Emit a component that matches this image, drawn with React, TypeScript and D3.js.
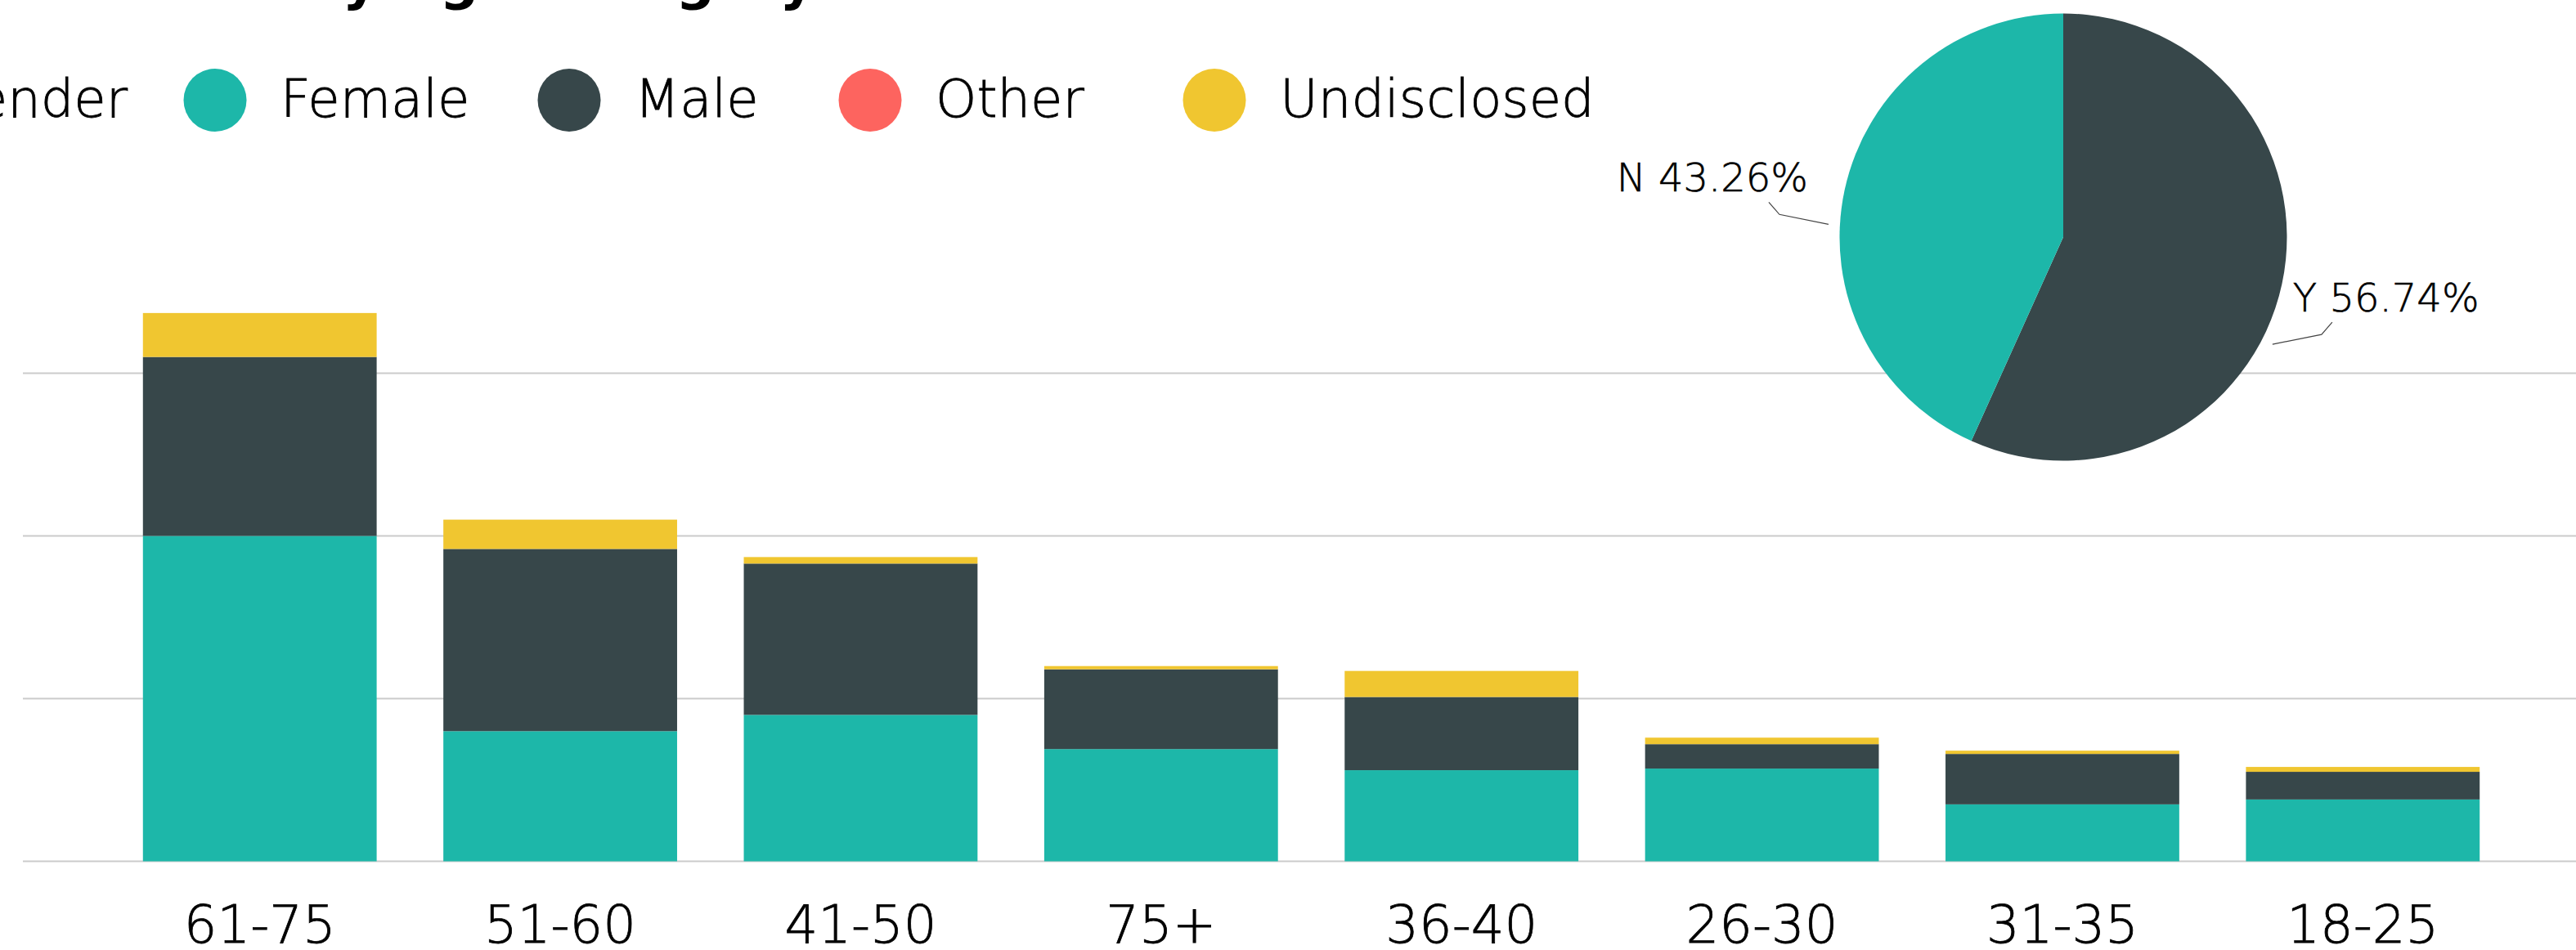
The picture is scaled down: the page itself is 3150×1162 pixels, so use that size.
import React from 'react';
import * as d3 from 'd3';

// age groups, already sorted by total
const ageGroups = ['61-75', '51-60', '41-50', '75+', '36-40', '26-30', '31-35', '18-25'];
const female = [200, 80, 90, 69, 56, 57, 35, 38];
const male = [110, 112, 93, 49, 45, 15, 31, 17];
const other = [0, 0, 0, 0, 0, 0, 0, 0];
const undisclosed = [27, 18, 4, 2, 16, 4, 2, 3];
const genders = ['Female', 'Male', 'Other', 'Undisclosed'];
const yTicks = [0, 100, 200, 300];

const pieLabels = ['Y', 'N'];
const pieValues = [56.74, 43.26];

const colors = ['#1db7a9', '#37474a', '#fd645f', '#f0c630'];
const FONT = "'DejaVu Sans', 'Open Sans', sans-serif";

const W = 3150;
const H = 1162;

// legend circle centres (layout only)
const legendX = [263, 696, 1064, 1485];
// nudge pie label leaders (degrees) so they sit like the original
const labelNudge = [15, -9];

// light text, thickened a touch
const txt = { fill: '#000', stroke: '#000', strokeWidth: 0.8 };

const App = () => {
  const rows = ageGroups.map((g, i) => ({
    group: g,
    Female: female[i],
    Male: male[i],
    Other: other[i],
    Undisclosed: undisclosed[i],
  }));
  const stack = d3.stack<any>().keys(genders)(rows);

  const x = d3.scaleBand().domain(ageGroups).range([134, 3073]).paddingInner(0.222).paddingOuter(0.111);
  const y = d3.scaleLinear().domain([0, 300]).range([1053.5, 456.5]);

  const cx = 2523;
  const cy = 290;
  const r = 273.5;
  const pie = d3.pie<number>().sort(null).value((d) => d)(pieValues);
  const arc = d3.arc<any>().innerRadius(0).outerRadius(r);

  return (
    <svg width={W} height={H} style={{ position: 'absolute', left: 0, top: 0, background: '#fff' }} fontFamily={FONT} fontWeight={300}>
      {/* title, mostly cut off at the top */}
      <text x={1459} y={-2} textAnchor="end" fontSize={67} fontWeight={700} fill="#000">
        Patients by Age Category and Gender
      </text>

      {/* legend */}
      <text x={156} y={143} textAnchor="end" fontSize={64} {...txt}>Gender</text>
      {genders.map((g, i) => (
        <g key={g}>
          <circle cx={legendX[i]} cy={122.5} r={38.5} fill={colors[i]} />
          <text x={legendX[i] + 80} y={143} fontSize={64} {...txt}>{g}</text>
        </g>
      ))}

      {/* gridlines */}
      {yTicks.map((t) => (
        <line key={t} x1={28} x2={W} y1={y(t)} y2={y(t)} stroke="#cbcbcb" strokeWidth={2} />
      ))}

      {/* stacked bars */}
      {stack.map((layer, li) => (
        <g key={layer.key} fill={colors[li]}>
          {layer.map((d, i) => (
            d[1] - d[0] > 0 ? (
              <rect key={i} x={x(ageGroups[i])} width={x.bandwidth()} y={y(d[1])} height={y(d[0]) - y(d[1])} />
            ) : null
          ))}
        </g>
      ))}

      {/* x labels */}
      {ageGroups.map((g) => (
        <text key={g} x={(x(g) as number) + x.bandwidth() / 2} y={1153} textAnchor="middle" fontSize={64} {...txt}>
          {g}
        </text>
      ))}

      {/* pie */}
      <g transform={`translate(${cx},${cy})`}>
        {pie.map((p, i) => (
          <path key={i} d={arc(p) as string} fill={colors[i === 0 ? 1 : 0]} />
        ))}
        {pie.map((p, i) => {
          const a = (p.startAngle + p.endAngle) / 2 + (labelNudge[i] * Math.PI) / 180;
          const side = Math.sin(a) >= 0 ? 1 : -1;
          const ax = Math.sin(a) * (r + 14);
          const ay = -Math.cos(a) * (r + 14);
          const bx = ax + side * 60;
          const by = ay - 12;
          const cxx = bx + side * 13;
          const cyy = by - 15;
          return (
            <g key={'l' + i}>
              <polyline points={`${ax},${ay} ${bx},${by} ${cxx},${cyy}`} fill="none" stroke="#444" strokeWidth={1.2} />
              <text
                x={cxx - side * 48}
                y={cyy - 13}
                textAnchor={side > 0 ? 'start' : 'end'}
                fontSize={48}
                {...txt}
                strokeWidth={0.6}
              >
                {pieLabels[i]} {pieValues[i].toFixed(2)}%
              </text>
            </g>
          );
        })}
      </g>
    </svg>
  );
};

export default App;
